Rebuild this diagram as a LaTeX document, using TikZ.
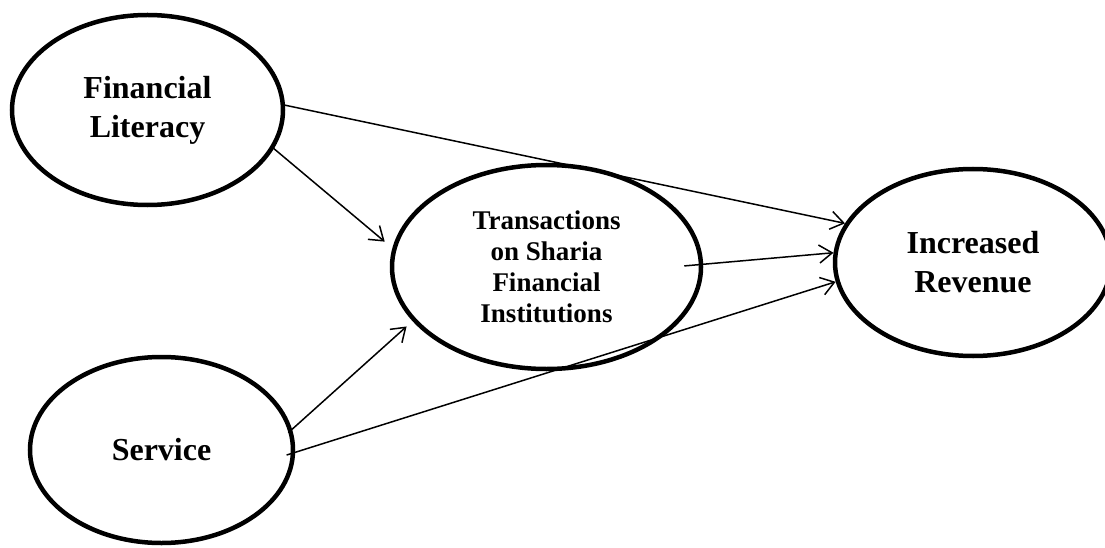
\documentclass[tikz,border=0pt]{standalone}
\usepackage{fontspec}
\setmainfont{Liberation Serif}
\usetikzlibrary{shapes.geometric,arrows.meta}

\begin{document}
\begin{tikzpicture}[x=1pt,y=-1pt,
  construct/.style={draw,ellipse,line width=4.5pt,inner sep=0pt,align=center,
    font=\bfseries\fontsize{32}{39}\selectfont},
  flow/.style={line width=1.5pt,-{Straight Barb[length=13pt,width=18pt]}}]
\useasboundingbox (0,0) rectangle (1105,548);

\node[construct,minimum width=271pt,minimum height=190pt] (fl) at (147.5,110) {Financial\\Literacy};
\node[construct,minimum width=263pt,minimum height=186pt] (sv) at (161.5,450) {Service};
\node[construct,minimum width=309pt,minimum height=204pt,
  font=\bfseries\fontsize{27}{31}\selectfont] (tr) at (546.5,267) {Transactions\\on Sharia\\Financial\\Institutions};
\node[construct,minimum width=276pt,minimum height=187pt] (ir) at (973,262.5) {Increased\\Revenue};

\path[flow]
  (fl.2) edge (ir.163)
  (fl.-17) edge[shorten <=-4pt,shorten >=10pt] (tr.173)
  (tr.1) edge[shorten <=-19pt] (ir.176)
  (sv.9) edge[shorten <=-5pt,shorten >=8pt] (tr.-158)
  (sv.-1) edge[shorten <=-9pt] (ir.188);
\end{tikzpicture}
\end{document}
